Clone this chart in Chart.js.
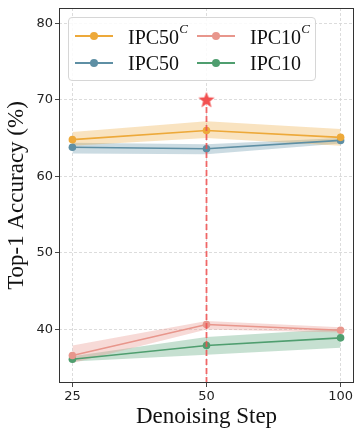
<!DOCTYPE html>
<html lang="en">
<head>
  <meta charset="UTF-8">
  <title>Top-1 Accuracy vs Denoising Step</title>
  <script src="https://cdn.jsdelivr.net/npm/chart.js"></script>
  <style>
    body { margin: 0; background: #fff; }
    .wrap { position: relative; width: 356px; height: 429px; }
    canvas { position: absolute; left: 0; top: 0; }
    .legend {
      position: absolute; left: 68px; top: 17px; width: 246px; height: 62px;
      border: 1px solid #d6d6d6; border-radius: 4px; background: rgba(255,255,255,0.85);
      font-family: 'Liberation Serif', serif; font-size: 20px; color: #111;
    }
    .item { position: absolute; height: 20px; display: flex; align-items: center; }
    .mark { position: relative; width: 38px; height: 20px; margin-right: 15px; }
    .mark .ln { position: absolute; left: 0; right: 0; top: 9px; height: 2px; }
    .mark .dot { position: absolute; left: 15px; top: 6px; width: 8px; height: 8px; border-radius: 50%; }
    sup { font-size: 13px; font-style: italic; position: relative; top: -3px; }
  </style>
</head>
<body>
  <div class="wrap">
    <canvas id="chart" width="356" height="429"></canvas>
    <div class="legend" id="legend"></div>
  </div>
  <script>
    const steps = ['25', '50', '100'];
    const yTicks = [40, 50, 60, 70, 80];

    const ipc50cMean = [64.8, 66.0, 65.1];
    const ipc50cLow  = [64.0, 65.0, 64.0];
    const ipc50cHigh = [65.8, 67.2, 66.2];

    const ipc50Mean = [63.8, 63.6, 64.7];
    const ipc50Low  = [63.0, 62.9, 64.3];
    const ipc50High = [64.4, 64.2, 65.0];

    const ipc10cMean = [36.6, 40.65, 39.9];
    const ipc10cLow  = [35.6, 40.0, 39.6];
    const ipc10cHigh = [37.9, 41.1, 40.3];

    const ipc10Mean = [36.1, 37.9, 38.9];
    const ipc10Low  = [35.8, 36.7, 37.6];
    const ipc10High = [36.5, 39.0, 40.1];

    const bestStep = 1;
    const bestValue = 70;
    const yMin = 33, yMax = 82;

    const series = [
      { name: 'IPC50', sup: 'C', mean: ipc50cMean, low: ipc50cLow, high: ipc50cHigh, color: '#eda93a', band: 'rgba(237,169,58,0.32)' },
      { name: 'IPC10', sup: 'C', mean: ipc10cMean, low: ipc10cLow, high: ipc10cHigh, color: '#e8968c', band: 'rgba(232,150,140,0.35)' },
      { name: 'IPC50', sup: '', mean: ipc50Mean, low: ipc50Low, high: ipc50High, color: '#5e8fa4', band: 'rgba(94,143,164,0.32)' },
      { name: 'IPC10', sup: '', mean: ipc10Mean, low: ipc10Low, high: ipc10High, color: '#4f9e6f', band: 'rgba(79,158,111,0.32)' }
    ];

    const pts = arr => arr.map((v, i) => ({ x: i, y: v }));

    // star marker
    const star = document.createElement('canvas');
    star.width = 18; star.height = 18;
    (function () {
      const c = star.getContext('2d');
      c.beginPath();
      for (let i = 0; i < 10; i++) {
        const r = i % 2 === 0 ? 8.5 : 3.6;
        const a = -Math.PI / 2 + i * Math.PI / 5;
        c.lineTo(9 + r * Math.cos(a), 9.5 + r * Math.sin(a));
      }
      c.closePath();
      c.fillStyle = '#f25050';
      c.fill();
    })();

    const datasets = [];
    series.forEach(s => {
      datasets.push({ data: pts(s.high), borderWidth: 0, pointRadius: 0, fill: false, order: 10 });
      datasets.push({ data: pts(s.low), borderWidth: 0, pointRadius: 0, fill: '-1', backgroundColor: s.band, order: 10 });
    });
    series.forEach(s => {
      datasets.push({
        data: pts(s.mean), borderColor: s.color, backgroundColor: s.color,
        borderWidth: 1.6, pointRadius: 3.8, pointBorderWidth: 0, fill: false, order: 5
      });
    });
    datasets.push({
      data: [{ x: bestStep, y: yMin }, { x: bestStep, y: bestValue }],
      borderColor: 'rgba(240,80,80,0.85)', borderWidth: 1.8, borderDash: [6, 3],
      pointRadius: 0, fill: false, order: 2
    });
    datasets.push({
      data: [{ x: bestStep, y: bestValue }], pointStyle: star, pointRadius: 9,
      showLine: false, order: 1
    });

    const framePlugin = {
      id: 'frame',
      afterDraw(chart) {
        const { ctx, chartArea: a } = chart;
        ctx.save();
        ctx.strokeStyle = '#333';
        ctx.lineWidth = 1;
        ctx.strokeRect(a.left + 0.5, a.top + 0.5, a.right - a.left - 1, a.bottom - a.top - 1);
        ctx.restore();
      }
    };

    new Chart(document.getElementById('chart'), {
      type: 'line',
      data: { datasets },
      plugins: [framePlugin],
      options: {
        responsive: false,
        animation: false,
        layout: { autoPadding: false, padding: { top: 8, right: 2, left: 0, bottom: 0 } },
        plugins: { legend: { display: false }, tooltip: { enabled: false } },
        scales: {
          x: {
            type: 'linear', min: -0.1, max: 2.1,
            afterBuildTicks: s => { s.ticks = steps.map((_, i) => ({ value: i })); },
            afterFit: s => { s.height = 46; s.paddingLeft = 0; s.paddingRight = 0; },
            ticks: {
              callback: v => steps[v], color: '#222', padding: 2,
              font: { family: 'DejaVu Sans', size: 13 }, maxRotation: 0
            },
            grid: { color: '#d8d8d8', lineWidth: 0.9, tickLength: 4, tickColor: '#333', tickBorderDash: [] },
            border: { display: false, dash: [3, 2] },
            title: {
              display: true, text: 'Denoising Step', color: '#111',
              font: { family: 'Liberation Serif', size: 23, lineHeight: 1 },
              padding: { top: 0, bottom: 1 }
            }
          },
          y: {
            min: yMin, max: yMax,
            afterBuildTicks: s => { s.ticks = yTicks.map(v => ({ value: v })); },
            afterFit: s => { s.width = 59; s.paddingTop = 0; s.paddingBottom = 0; },
            ticks: { color: '#222', padding: 2, font: { family: 'DejaVu Sans', size: 13 } },
            grid: { color: '#d8d8d8', lineWidth: 0.9, tickLength: 4, tickColor: '#333', tickBorderDash: [] },
            border: { display: false, dash: [3, 2] },
            title: {
              display: true, text: 'Top-1 Accuracy (%)', color: '#111',
              font: { family: 'Liberation Serif', size: 23 },
              padding: { top: 3, bottom: 0 }
            }
          }
        }
      }
    });

    // legend: column 1 = IPC50 variants, column 2 = IPC10 variants
    const legend = document.getElementById('legend');
    const cells = [[6, 8], [128, 8], [6, 35], [128, 35]];
    series.forEach((s, i) => {
      const el = document.createElement('div');
      el.className = 'item';
      el.style.left = cells[i][0] + 'px';
      el.style.top = cells[i][1] + 'px';
      el.innerHTML = '<div class="mark"><div class="ln" style="background:' + s.color + '"></div>' +
        '<div class="dot" style="background:' + s.color + '"></div></div>' +
        '<span>' + s.name + (s.sup ? '<sup>' + s.sup + '</sup>' : '') + '</span>';
      legend.appendChild(el);
    });
  </script>
</body>
</html>
